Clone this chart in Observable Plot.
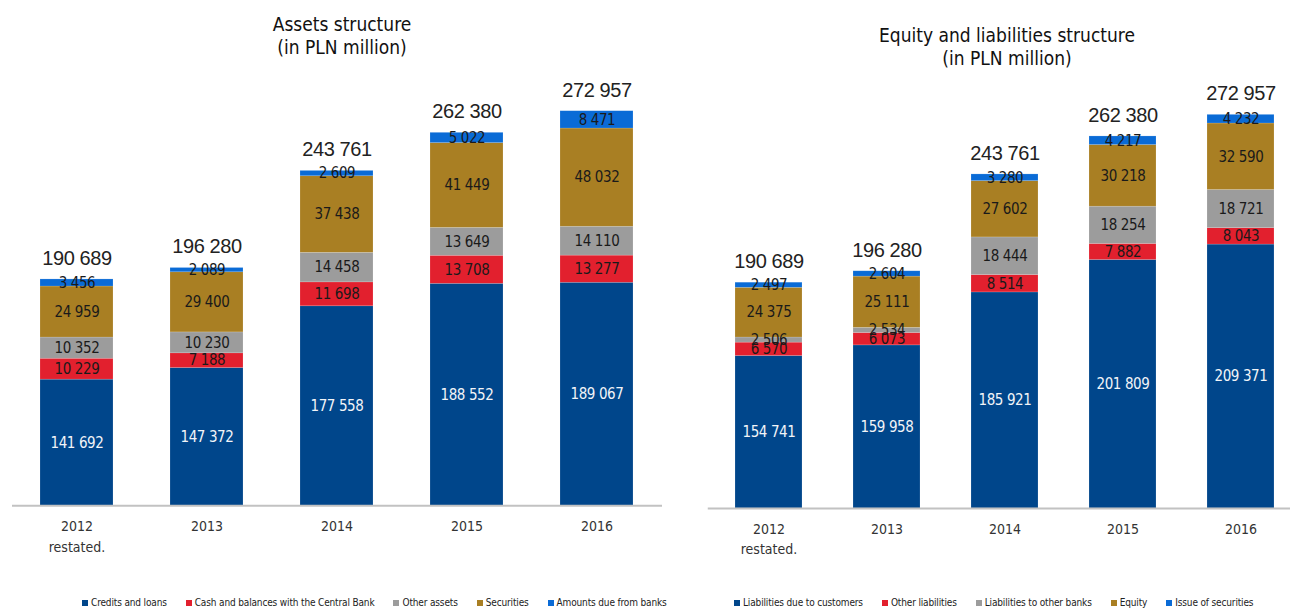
<!DOCTYPE html>
<html><head><meta charset="utf-8">
<script src="https://cdn.jsdelivr.net/npm/d3@7"></script>
<script src="https://cdn.jsdelivr.net/npm/@observablehq/plot@0.6"></script>
<style>
body{margin:0;background:#fff;overflow:hidden;width:1290px;height:608px;font-family:"DejaVu Sans Condensed",sans-serif}
#page{position:relative;width:1290px;height:608px;overflow:hidden}
.title{position:absolute;text-align:center;font-size:19px;line-height:23px;color:#111}
.chart{position:absolute;top:60px}
.legend{position:absolute;top:597px;display:flex;font-size:10px;letter-spacing:-0.15px;color:#222;white-space:nowrap;line-height:12px}
.legend .item{display:flex;align-items:center;margin-right:19px}
.legend i{display:inline-block;width:6px;height:6px;margin-right:3px}
</style></head><body><div id="page"></div>
<script>
const years = ["2012\nrestated.", "2013", "2014", "2015", "2016"];

// Assets structure
const assetSeries = ["Credits and loans", "Cash and balances with the Central Bank", "Other assets", "Securities", "Amounts due from banks"];
const creditsAndLoans = [141692, 147372, 177558, 188552, 189067];
const cashCentralBank = [10229, 7188, 11698, 13708, 13277];
const otherAssets = [10352, 10230, 14458, 13649, 14110];
const securities = [24959, 29400, 37438, 41449, 48032];
const dueFromBanks = [3456, 2089, 2609, 5022, 8471];
const assetTotals = [190689, 196280, 243761, 262380, 272957];

// Equity and liabilities structure
const liabSeries = ["Liabilities due to customers", "Other liabilities", "Liabilities to other banks", "Equity", "Issue of securities"];
const dueToCustomers = [154741, 159958, 185921, 201809, 209371];
const otherLiabilities = [6570, 6073, 8514, 7882, 8043];
const toOtherBanks = [2506, 2534, 18444, 18254, 18721];
const equity = [24375, 25111, 27602, 30218, 32590];
const issueOfSecurities = [2497, 2604, 3280, 4217, 4232];
const liabTotals = [190689, 196280, 243761, 262380, 272957];

const seriesColors = ["#00468b", "#e2202e", "#9c9c9c", "#a97f23", "#0a6bd6"];
const yMin = 80000, yMax = 280000;

const fmt = d3.formatLocale({thousands: " ", grouping: [3], decimal: "."}).format(",");
const FONT = '"DejaVu Sans Condensed",sans-serif';

function makeChart(opts) {
  const {series, values, totals, width, height, marginLeft, marginRight, marginTop, marginBottom} = opts;
  const rows = [], labels = [], totalRows = [];
  years.forEach((yr, i) => {
    let cum = 0;
    series.forEach((s, j) => {
      const v = values[j][i];
      rows.push({year: yr, series: s, value: v});
      const lo = Math.max(cum, yMin), hi = cum + v;
      labels.push({year: yr, series: s, mid: (lo + hi) / 2, label: fmt(v), first: j === 0});
      cum = hi;
    });
    totalRows.push({year: yr, total: totals[i], label: fmt(totals[i])});
  });
  const svg = Plot.plot({
    width, height, marginLeft, marginRight, marginTop, marginBottom,
    style: {fontFamily: FONT, background: "transparent", color: "#333", overflow: "visible"},
    x: {domain: years, paddingInner: 0.435, paddingOuter: 0.2175},
    y: {domain: [yMin, yMax], clamp: true, axis: null},
    color: {domain: series, range: seriesColors},
    marks: [
      Plot.barY(rows, {x: "year", y: "value", fill: "series", stroke: "#ffffff", strokeOpacity: 0.25, strokeWidth: 0.6}),
      Plot.ruleY([yMin], {stroke: "#c2c2c2", strokeWidth: 2}),
      Plot.axisX({tickSize: 0, tickPadding: 11, fontSize: 14, label: null, lineAnchor: "top", lineHeight: 1.45, fill: "#333"}),
      Plot.text(labels.filter(d => d.first), {x: "year", y: "mid", text: "label", fill: "#f2f4f8", fontSize: 15}),
      Plot.text(labels.filter(d => !d.first), {x: "year", y: "mid", text: "label", fill: "#1a1a1a", fontSize: 15}),
      Plot.text(totalRows, {x: "year", y: "total", text: "label", dy: -21, fontSize: 20, fill: "#222", fontFamily: '"Liberation Sans",sans-serif'})
    ]
  });
  d3.select(svg).selectAll("g[aria-label='text'] text").style("letter-spacing", "-0.4px");
  return svg;
}

function legend(series, left) {
  const div = document.createElement("div");
  div.className = "legend";
  div.style.left = left + "px";
  series.forEach((s, j) => {
    const it = document.createElement("span");
    it.className = "item";
    const sw = document.createElement("i");
    sw.style.background = seriesColors[j];
    it.appendChild(sw);
    it.appendChild(document.createTextNode(s));
    div.appendChild(it);
  });
  return div;
}

function title(lines, left, width, top) {
  const div = document.createElement("div");
  div.className = "title";
  div.style.left = left + "px";
  div.style.width = width + "px";
  div.style.top = top + "px";
  div.innerHTML = lines.join("<br>");
  return div;
}

const page = document.getElementById("page");

page.appendChild(title(["Assets structure", "(in PLN million)"], 0, 684, 13));
const left = makeChart({
  series: assetSeries,
  values: [creditsAndLoans, cashCentralBank, otherAssets, securities, dueFromBanks],
  totals: assetTotals,
  width: 680, height: 510, marginLeft: 12, marginRight: 18, marginTop: 36.3, marginBottom: 64.7
});
left.classList.add("chart");
left.style.left = "0px";
page.appendChild(left);
page.appendChild(legend(assetSeries, 82));

page.appendChild(title(["Equity and liabilities structure", "(in PLN million)"], 700, 614, 24));
const right = makeChart({
  series: liabSeries,
  values: [dueToCustomers, otherLiabilities, toOtherBanks, equity, issueOfSecurities],
  totals: liabTotals,
  width: 600, height: 510, marginLeft: 7.75, marginRight: 0, marginTop: 40, marginBottom: 62
});
right.classList.add("chart");
right.style.left = "700px";
page.appendChild(right);
page.appendChild(legend(liabSeries, 734));
</script>
</body></html>
